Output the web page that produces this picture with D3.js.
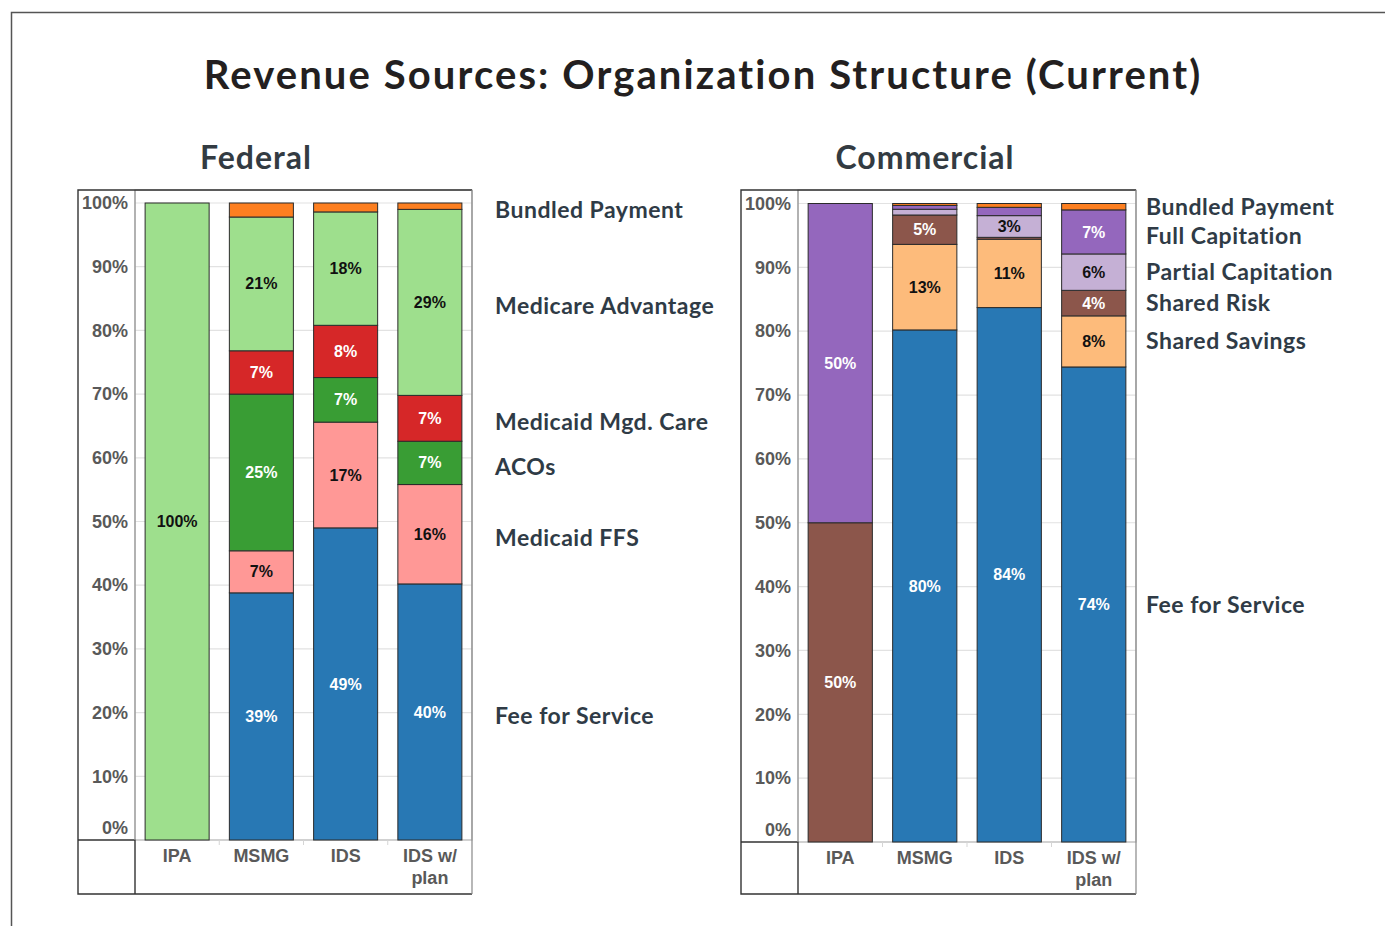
<!DOCTYPE html>
<html lang="en">
<head>
<meta charset="utf-8">
<title>Revenue Sources: Organization Structure (Current)</title>
<script src="https://cdn.jsdelivr.net/npm/d3@7"></script>
<style>
 body { margin: 0; background: #ffffff; }
 svg { display: block; }
 .tick line { display: none; }
</style>
</head>
<body>
<div id="chart"></div>
<script>
// categories (shared by both panels)
const categories = ["IPA", "MSMG", "IDS", "IDS w/ plan"];
const tickValues = [0, 10, 20, 30, 40, 50, 60, 70, 80, 90, 100];

// Federal, bottom to top, % of revenue
const federalSeries = ["Fee for Service", "Medicaid FFS", "ACOs", "Medicaid Mgd. Care", "Medicare Advantage", "Bundled Payment"];
const fedFeeForService    = [0, 38.8, 49.0, 40.2];
const fedMedicaidFFS      = [0, 6.6, 16.6, 15.6];
const fedACOs             = [0, 24.6, 7.0, 6.8];
const fedMedicaidMgdCare  = [0, 6.8, 8.2, 7.2];
const fedMedicareAdv      = [100, 21.0, 17.8, 29.2];
const fedBundledPayment   = [0, 2.2, 1.4, 1.0];

// Commercial, bottom to top
const commercialSeries = ["Fee for Service", "Shared Savings", "Shared Risk", "Partial Capitation", "Full Capitation", "Bundled Payment"];
const comFeeForService    = [0, 80.2, 83.7, 74.4];
const comSharedSavings    = [0, 13.4, 10.7, 8.0];
const comSharedRisk       = [50, 4.6, 0.3, 4.0];
const comPartialCap       = [0, 0.9, 3.4, 5.7];
const comFullCap          = [50, 0.6, 1.3, 6.9];
const comBundledPayment   = [0, 0.3, 0.6, 1.0];

// colours per series (fill, label colour)
const fedColors = ["#2878b4", "#ff9896", "#399d34", "#d62728", "#9edf8d", "#fd7f20"];
const fedText   = ["#fff", "#111", "#fff", "#fff", "#111", "#111"];
const comColors = ["#2878b4", "#fdbb7b", "#8c564b", "#c5b0d5", "#9467bd", "#fd7f20"];
const comText   = ["#fff", "#111", "#fff", "#111", "#fff", "#fff"];

const W = 1385, H = 926;
const svg = d3.select("#chart").append("svg").attr("width", W).attr("height", H);

// page frame
svg.append("path")
   .attr("d", `M11.5,${H} L11.5,12.5 L${W},12.5`)
   .attr("fill", "none").attr("stroke", "#555").attr("stroke-width", 1.5);

svg.append("text")
   .attr("x", 703).attr("y", 89)
   .attr("text-anchor", "middle")
   .style("font-family", "Lato, sans-serif")
   .style("font-weight", "bold")
   .style("font-size", "40px")
   .style("letter-spacing", "2.1px")
   .attr("fill", "#231f20")
   .text("Revenue Sources: Organization Structure (Current)");

function buildRows(series, cols) {
    return categories.map((c, i) => {
	const row = {category: c};
	series.forEach((s, j) => row[s] = cols[j][i]);
	return row;
    });
}

function wrap(sel, width) {
    sel.each(function () {
	const t = d3.select(this);
	const words = t.text().split(" ");
	t.text(null);
	let line = [];
	let tspan = t.append("tspan").attr("x", 0).attr("dy", "0.71em");
	words.forEach(w => {
	    line.push(w);
	    tspan.text(line.join(" "));
	    if (tspan.node().getComputedTextLength() > width && line.length > 1) {
		line.pop();
		tspan.text(line.join(" "));
		line = [w];
		tspan = t.append("tspan").attr("x", 0).attr("dy", "1.25em").text(w);
	    }
	});
    });
}

function drawPanel(cfg) {
    const g = svg.append("g");
    const rows = buildRows(cfg.series, cfg.cols);
    const stack = d3.stack().keys(cfg.series)(rows);

    const x = d3.scaleBand().domain(categories)
		.range([cfg.px0, cfg.x1])
		.paddingInner(0.24).paddingOuter(0.12);
    const y = d3.scaleLinear().domain([0, 100]).range([cfg.zeroY, cfg.topY]);

    // subtitle
    g.append("text")
     .attr("x", cfg.titleX).attr("y", 169)
     .attr("text-anchor", "middle")
     .style("font-family", "Lato, sans-serif")
     .style("font-weight", "bold")
     .style("font-size", "32px")
     .style("letter-spacing", "1px")
     .attr("fill", "#333b42")
     .text(cfg.title);

    // grid
    g.append("g").selectAll("line").data(tickValues).join("line")
     .attr("x1", cfg.px0).attr("x2", cfg.x1)
     .attr("y1", d => y(d)).attr("y2", d => y(d))
     .attr("stroke", "#e2e2e2").attr("stroke-width", 1.2);

    // plot area frame
    g.append("rect")
     .attr("x", cfg.px0).attr("y", cfg.y0)
     .attr("width", cfg.x1 - cfg.px0).attr("height", cfg.zeroY - cfg.y0)
     .attr("fill", "none").attr("stroke", "#bdbdbd").attr("stroke-width", 1.2);

    // band ticks in axis row
    g.append("g").selectAll("line").data(categories.slice(1)).join("line")
     .attr("x1", d => x(d) - x.step() * 0.12).attr("x2", d => x(d) - x.step() * 0.12)
     .attr("y1", cfg.zeroY).attr("y2", cfg.zeroY + 5)
     .attr("stroke", "#d5d5d5");

    // bars
    g.append("g").selectAll("g").data(stack).join("g")
     .attr("fill", (d, i) => cfg.colors[i])
     .selectAll("rect").data(d => d).join("rect")
     .attr("x", d => x(d.data.category))
     .attr("width", x.bandwidth())
     .attr("y", d => y(d[1]))
     .attr("height", d => y(d[0]) - y(d[1]))
     .attr("stroke", "#2b2b2b").attr("stroke-width", 1);

    // bar labels
    g.append("g").selectAll("g").data(stack).join("g")
     .attr("fill", (d, i) => cfg.textColors[i])
     .selectAll("text").data(d => d.filter(v => v[1] - v[0] >= 2.5)).join("text")
     .attr("x", d => x(d.data.category) + x.bandwidth() / 2)
     .attr("y", d => y((d[0] + d[1]) / 2))
     .attr("dy", "0.35em")
     .attr("text-anchor", "middle")
     .style("font-family", "'Liberation Sans', Arial, sans-serif")
     .style("font-weight", "bold")
     .style("font-size", "16px")
     .text(d => Math.round(d[1] - d[0]) + "%");

    // y axis
    const ya = g.append("g")
		.attr("transform", `translate(${cfg.px0},0)`)
		.call(d3.axisLeft(y).tickValues(tickValues).tickSize(0).tickPadding(7).tickFormat(d => d + "%"));
    ya.select(".domain").remove();
    ya.selectAll("text")
      .style("font-family", "'Liberation Sans', Arial, sans-serif")
      .style("font-weight", "bold")
      .style("font-size", "18px")
      .attr("fill", "#595959");
    // the 0% label sits just above the baseline
    ya.selectAll(".tick").filter(d => d === 0).select("text").attr("y", -12);

    // x axis
    const xa = g.append("g")
		.attr("transform", `translate(0,${cfg.zeroY})`)
		.call(d3.axisBottom(x).tickSize(0).tickPadding(9));
    xa.select(".domain").remove();
    xa.selectAll("text")
      .style("font-family", "'Liberation Sans', Arial, sans-serif")
      .style("font-weight", "bold")
      .style("font-size", "18px")
      .attr("fill", "#595959")
      .call(wrap, x.bandwidth());

    // axis row cell lines
    g.append("path")
     .attr("d", `M${cfg.x0},${cfg.zeroY} L${cfg.px0},${cfg.zeroY} L${cfg.px0},${cfg.y1}`)
     .attr("fill", "none").attr("stroke", "#333").attr("stroke-width", 1.4);
    g.append("line")
     .attr("x1", cfg.px0).attr("x2", cfg.px0).attr("y1", cfg.y0).attr("y2", cfg.zeroY)
     .attr("stroke", "#999").attr("stroke-width", 1.2);

    // outer box
    g.append("path")
     .attr("d", `M${cfg.x1},${cfg.y0} L${cfg.x0},${cfg.y0} L${cfg.x0},${cfg.y1} L${cfg.x1},${cfg.y1}`)
     .attr("fill", "none").attr("stroke", "#333").attr("stroke-width", 1.4);
    g.append("line")
     .attr("x1", cfg.x1).attr("x2", cfg.x1).attr("y1", cfg.y0).attr("y2", cfg.y1)
     .attr("stroke", "#888").attr("stroke-width", 1.2);

    // legend labels next to last bar, pushed apart when they collide
    const last = categories.length - 1;
    const legendY = [];
    stack.slice().reverse().forEach(d => {
	let ly = Math.max(y((d[last][0] + d[last][1]) / 2) + cfg.legendShift, cfg.topY + 2);
	if (legendY.length) ly = Math.max(ly, legendY[legendY.length - 1].y + 29);
	legendY.push({key: d.key, y: ly});
    });
    g.append("g").selectAll("text").data(legendY).join("text")
     .attr("x", cfg.legendX)
     .attr("y", d => d.y)
     .attr("dy", "0.35em")
     .style("font-family", "Lato, sans-serif")
     .style("font-weight", "bold")
     .style("font-size", "23px")
     .style("letter-spacing", "0.5px")
     .attr("fill", "#2f3b46")
     .text(d => d.key);
}

drawPanel({
    title: "Federal", titleX: 256, legendX: 495,
    series: federalSeries,
    cols: [fedFeeForService, fedMedicaidFFS, fedACOs, fedMedicaidMgdCare, fedMedicareAdv, fedBundledPayment],
    colors: fedColors, textColors: fedText,
    x0: 78, px0: 135, x1: 472, y0: 190, y1: 894, topY: 203, zeroY: 840,
    legendShift: 4
});

drawPanel({
    title: "Commercial", titleX: 925, legendX: 1146,
    series: commercialSeries,
    cols: [comFeeForService, comSharedSavings, comSharedRisk, comPartialCap, comFullCap, comBundledPayment],
    colors: comColors, textColors: comText,
    x0: 741, px0: 798, x1: 1136, y0: 190, y1: 894, topY: 203.5, zeroY: 842,
    legendShift: 0
});
</script>
</body>
</html>
